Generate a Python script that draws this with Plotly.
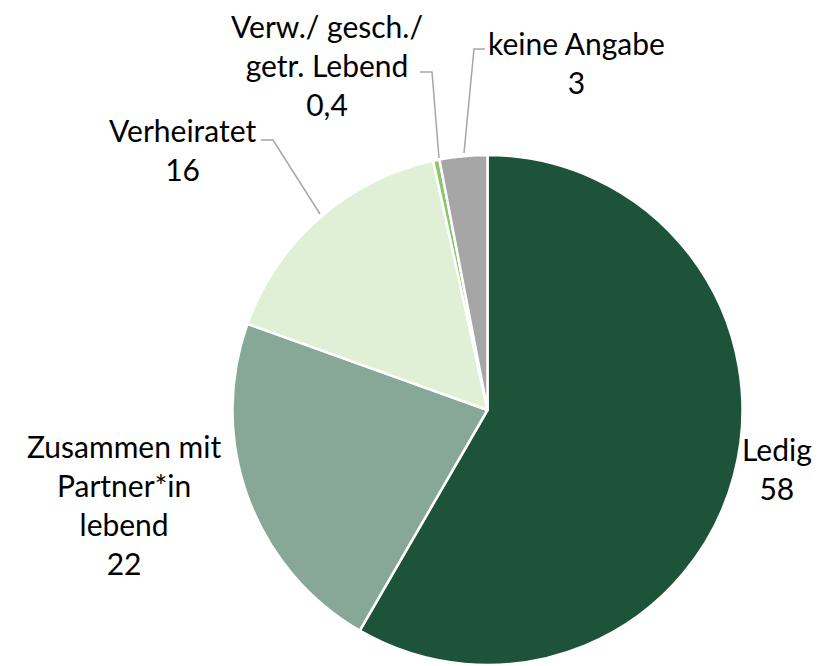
import plotly.graph_objects as go

categories = ["Ledig", "Zusammen mit Partner*in lebend", "Verheiratet",
              "Verw./ gesch./ getr. Lebend", "keine Angabe"]
values = [58, 22, 16, 0.4, 3]
value_labels = ["58", "22", "16", "0,4", "3"]
label_text = ["Ledig", "Zusammen mit<br>Partner*in<br>lebend", "Verheiratet",
              "Verw./ gesch./<br>getr. Lebend", "keine Angabe"]
colors = ["#1D5439", "#88A897", "#DFF0D6", "#8CC66C", "#A6A6A6"]

# page body has an 8px margin: work in reference pixels, shift by OFF
OFF = 8
W, H = 839 - OFF, 666 - OFF
FONT = "Lato"
FS = 30


def px(x):
    return (x - OFF) / W


def py(y):
    return 1 - (y - OFF) / H


fig = go.Figure(go.Pie(
    labels=categories, values=values, sort=False, direction="clockwise",
    rotation=0, textinfo="none", hoverinfo="label+value",
    marker=dict(colors=colors, line=dict(color="white", width=2.5)),
    domain=dict(x=[px(232), px(743)], y=[py(665), py(155)]),
    showlegend=False,
))

# label positions (reference pixel centres) and leader lines
label_pos = [(777, 468), (124, 504), (182, 150), (327, 65), (576, 62)]
leaders = [None, None,
           [(261, 140), (273, 140), (320, 214)],
           [(420, 72), (432, 72), (439, 158)],
           [(485, 49), (474, 49), (464, 153)]]

annotations = []
for txt, val, (lx, ly) in zip(label_text, value_labels, label_pos):
    annotations.append(dict(
        x=px(lx), y=py(ly), xref="paper", yref="paper",
        text=f"{txt}<br>{val}", showarrow=False, align="center",
        xanchor="center", yanchor="middle",
        font=dict(family=FONT, size=FS, color="#000000"),
    ))

shapes = []
for pts in leaders:
    if pts is None:
        continue
    path = "M " + " L ".join(f"{px(x)},{py(y)}" for x, y in pts)
    shapes.append(dict(type="path", path=path, xref="paper", yref="paper",
                       line=dict(color="#A6A6A6", width=1.5)))

fig.update_layout(
    width=W, height=H, margin=dict(l=0, r=0, t=0, b=0),
    paper_bgcolor="white", plot_bgcolor="white",
    annotations=annotations, shapes=shapes,
    font=dict(family=FONT),
)

fig.write_html("out.html")
